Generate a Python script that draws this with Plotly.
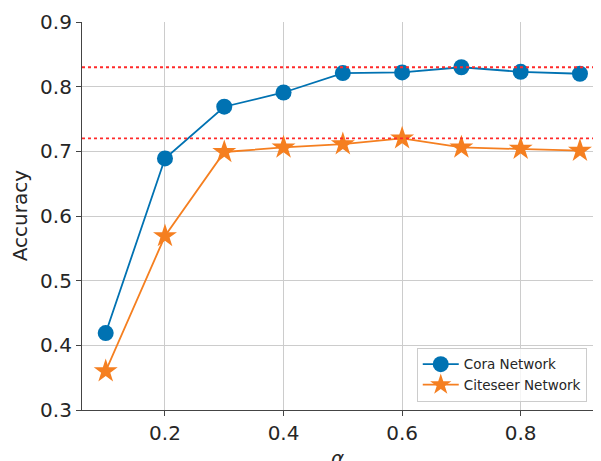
import plotly.graph_objects as go

alpha = [0.1, 0.2, 0.3, 0.4, 0.5, 0.6, 0.7, 0.8, 0.9]
cora = [0.419, 0.689, 0.769, 0.791, 0.821, 0.822, 0.830, 0.823, 0.820]
citeseer = [0.360, 0.569, 0.699, 0.706, 0.711, 0.720, 0.706, 0.704, 0.701]
ref_lines = [0.83, 0.72]
yticks = [0.3, 0.4, 0.5, 0.6, 0.7, 0.8, 0.9]
xticks = [0.2, 0.4, 0.6, 0.8]

fig = go.Figure()
for r in ref_lines:
    fig.add_shape(type="line", xref="paper", x0=0, x1=1, yref="y", y0=r, y1=r,
                  line=dict(color="#ff2a2a", width=1.8, dash="dot"), layer="above")

fig.add_trace(go.Scatter(x=alpha, y=cora, name="Cora Network", mode="lines+markers",
                         line=dict(color="#0072B2", width=1.8),
                         marker=dict(symbol="circle", size=16, color="#0072B2"),
                         cliponaxis=False))
fig.add_trace(go.Scatter(x=alpha, y=citeseer, name="Citeseer Network", mode="lines+markers",
                         line=dict(color="#F57F20", width=1.8),
                         marker=dict(symbol="star", size=18, color="#F57F20"),
                         cliponaxis=False))

# page body has an 8px default margin, so the figure is offset by 8px
fig.update_layout(
    width=593, height=453,
    margin=dict(l=74, r=0, t=14, b=51),
    paper_bgcolor="white", plot_bgcolor="white",
    font=dict(family="DejaVu Sans", color="#262626"),
    showlegend=True,
    legend=dict(x=0.645, y=0.021, xanchor="left", yanchor="bottom",
                bgcolor="rgba(255,255,255,0.8)", bordercolor="#cccccc", borderwidth=1,
                font=dict(size=13.5, color="#262626"), tracegroupgap=0,
                itemwidth=36),
    xaxis=dict(range=[0.06, 0.9355], tickvals=xticks, ticktext=[f"{v:.1f}" for v in xticks],
               showgrid=True, gridcolor="#cccccc", gridwidth=1,
               showline=True, linecolor="#444444", linewidth=1.2,
               ticks="outside", ticklen=5, tickcolor="#444444",
               tickfont=dict(size=20), zeroline=False, automargin=False),
    yaxis=dict(range=[0.3, 0.9], tickvals=yticks, ticktext=[f"{v:.1f}" for v in yticks],
               showgrid=True, gridcolor="#cccccc", gridwidth=1,
               showline=True, linecolor="#444444", linewidth=1.2,
               ticks="outside", ticklen=5, tickcolor="#444444",
               tickfont=dict(size=20), zeroline=False, automargin=False),
    annotations=[
        dict(text="<i>α</i>", xref="paper", yref="paper", x=0.493, y=-0.088,
             yanchor="top", showarrow=False, font=dict(size=20, color="#262626")),
        dict(text="Accuracy", xref="paper", yref="paper", x=-0.119, y=0.5,
             xanchor="center", yanchor="middle", textangle=-90, showarrow=False,
             font=dict(size=20, color="#262626")),
    ],
)

fig.write_html("out.html")
